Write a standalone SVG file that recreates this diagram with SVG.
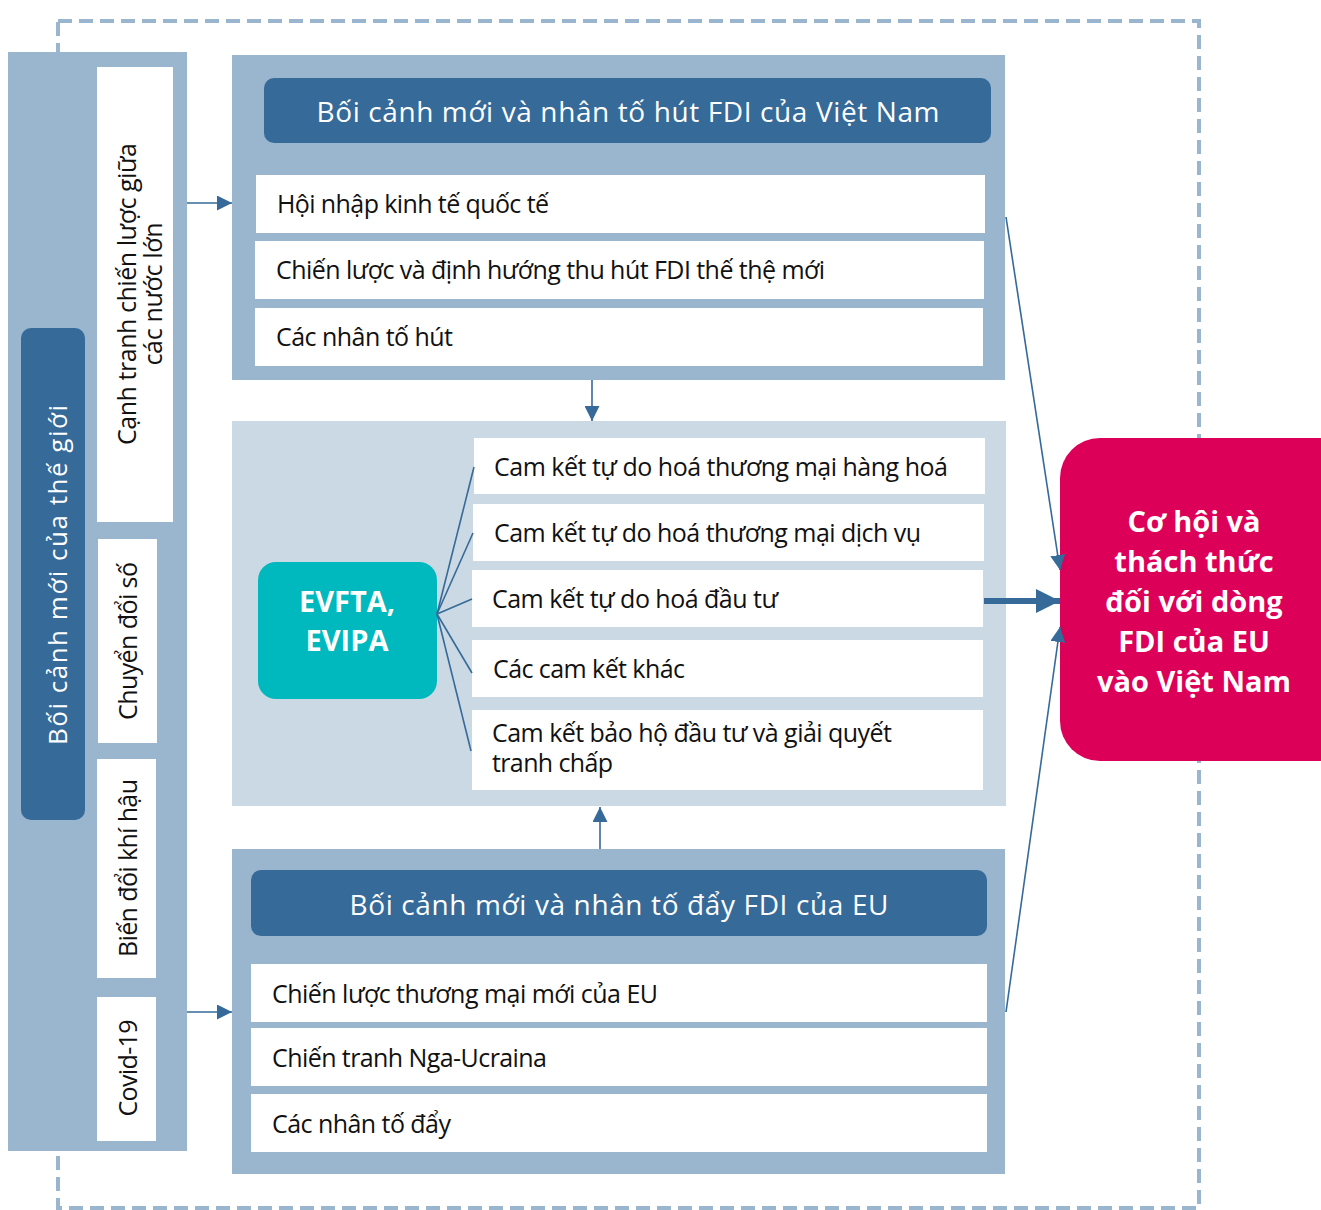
<svg xmlns="http://www.w3.org/2000/svg" width="1321" height="1210" viewBox="0 0 1321 1210">
<defs>
<style>
.panel{fill:#9ab5ce}
.light{fill:#cbd9e4}
.dark{fill:#356a99}
.white{fill:#ffffff}
.body{font-family:"Open Sans","Noto Sans","DejaVu Sans",sans-serif;font-size:25px;fill:#111111}
.head{font-family:"Open Sans","Noto Sans","DejaVu Sans",sans-serif;font-size:28px;fill:#ffffff;text-anchor:middle}
.bold{font-family:"Open Sans","Noto Sans","DejaVu Sans",sans-serif;font-size:29px;font-weight:700;fill:#ffffff;text-anchor:middle}
.rot{font-family:"Open Sans","Noto Sans","DejaVu Sans",sans-serif;font-size:25px;fill:#111111;text-anchor:middle}
.conn{stroke:#356a99;stroke-width:1.6;fill:none}
</style>
<marker id="ah" markerUnits="userSpaceOnUse" viewBox="0 0 15 15" refX="15" refY="7.5" markerWidth="15" markerHeight="15" orient="auto">
<path d="M0,0 L15,7.5 L0,15 z" fill="#356a99"/>
</marker>
<marker id="ahb" markerUnits="userSpaceOnUse" viewBox="0 0 24 24" refX="24" refY="12" markerWidth="24" markerHeight="24" orient="auto">
<path d="M0,0 L24,12 L0,24 z" fill="#356a99"/>
</marker>
</defs>
<rect width="1321" height="1210" fill="#ffffff"/>
<rect x="58" y="21" width="1141" height="1187" fill="none" stroke="#9ab5ce" stroke-width="4" stroke-dasharray="14 7"/>

<g id="world">
<rect class="panel" x="8" y="52" width="179" height="1099"/>
<rect class="dark" x="21" y="328" width="64" height="492" rx="10"/>
<text transform="translate(67,575) rotate(-90)" font-family="Open Sans, Noto Sans, sans-serif" font-size="26" fill="#ffffff" text-anchor="middle" textLength="340" lengthAdjust="spacing">Bối cảnh mới của thế giới</text>
</g>
<g id="w1">
<rect class="white" x="97" y="67" width="76" height="455"/>
<text class="rot" transform="translate(136,294) rotate(-90)" textLength="302" lengthAdjust="spacing">Cạnh tranh chiến lược giữa</text>
<text class="rot" transform="translate(162,294) rotate(-90)" textLength="143" lengthAdjust="spacing">các nước lớn</text>
</g>
<g id="w2">
<rect class="white" x="98" y="539" width="59" height="204"/>
<text class="rot" transform="translate(137,641) rotate(-90)" textLength="158" lengthAdjust="spacing">Chuyển đổi số</text>
</g>
<g id="w3">
<rect class="white" x="97" y="759" width="59" height="219"/>
<text class="rot" transform="translate(137,868) rotate(-90)" textLength="178" lengthAdjust="spacing">Biến đổi khí hậu</text>
</g>
<g id="w4">
<rect class="white" x="97" y="997" width="59" height="144"/>
<text class="rot" transform="translate(137,1068) rotate(-90)" textLength="97" lengthAdjust="spacing">Covid-19</text>
</g>

<g id="pull">
<rect class="panel" x="232" y="55" width="773" height="325"/>
<rect class="dark" x="264" y="78" width="727" height="65" rx="10"/>
<text class="head" x="628" y="122" textLength="623" lengthAdjust="spacing">Bối cảnh mới và nhân tố hút FDI của Việt Nam</text>
<rect class="white" x="256" y="175" width="729" height="58"/>
<text class="body" x="277" y="213" textLength="272" lengthAdjust="spacing">Hội nhập kinh tế quốc tế</text>
<rect class="white" x="255" y="241" width="729" height="58"/>
<text class="body" x="276" y="279" textLength="549" lengthAdjust="spacing">Chiến lược và định hướng thu hút FDI thế thệ mới</text>
<rect class="white" x="255" y="308" width="728" height="58"/>
<text class="body" x="276" y="346" textLength="177" lengthAdjust="spacing">Các nhân tố hút</text>
</g>

<g id="agreements">
<rect class="light" x="232" y="421" width="774" height="385"/>
<rect class="white" x="474" y="438" width="511" height="56"/>
<text class="body" x="494" y="476" textLength="454" lengthAdjust="spacing">Cam kết tự do hoá thương mại hàng hoá</text>
<rect class="white" x="473" y="504" width="511" height="57"/>
<text class="body" x="494" y="542" textLength="427" lengthAdjust="spacing">Cam kết tự do hoá thương mại dịch vụ</text>
<rect class="white" x="472" y="570" width="511" height="57"/>
<text class="body" x="492" y="608" textLength="286" lengthAdjust="spacing">Cam kết tự do hoá đầu tư</text>
<rect class="white" x="472" y="640" width="511" height="57"/>
<text class="body" x="493" y="678" textLength="192" lengthAdjust="spacing">Các cam kết khác</text>
<rect class="white" x="472" y="710" width="511" height="80"/>
<text class="body" x="492" y="742" textLength="400" lengthAdjust="spacing">Cam kết bảo hộ đầu tư và giải quyết</text>
<text class="body" x="492" y="772" textLength="121" lengthAdjust="spacing">tranh chấp</text>
</g>

<g id="evfta">
<rect x="258" y="562" width="179" height="137" rx="18" fill="#00b9be"/>
<text class="bold" x="347" y="612">EVFTA,</text>
<text class="bold" x="347" y="651">EVIPA</text>
</g>

<g id="push">
<rect class="panel" x="232" y="849" width="773" height="325"/>
<rect class="dark" x="251" y="870" width="736" height="66" rx="10"/>
<text class="head" x="619" y="915" textLength="539" lengthAdjust="spacing">Bối cảnh mới và nhân tố đẩy FDI của EU</text>
<rect class="white" x="251" y="964" width="736" height="58"/>
<text class="body" x="272" y="1003" textLength="386" lengthAdjust="spacing">Chiến lược thương mại mới của EU</text>
<rect class="white" x="251" y="1028" width="736" height="58"/>
<text class="body" x="272" y="1067" textLength="275" lengthAdjust="spacing">Chiến tranh Nga-Ucraina</text>
<rect class="white" x="251" y="1094" width="736" height="58"/>
<text class="body" x="272" y="1133" textLength="179" lengthAdjust="spacing">Các nhân tố đẩy</text>
</g>

<g id="outcome">
<rect x="1060" y="438" width="300" height="323" rx="40" fill="#dc0058"/>
<text class="bold" x="1194" y="532">Cơ hội và</text>
<text class="bold" x="1194" y="572">thách thức</text>
<text class="bold" x="1194" y="612">đối với dòng</text>
<text class="bold" x="1194" y="652">FDI của EU</text>
<text class="bold" x="1194" y="692">vào Việt Nam</text>
</g>

<g id="connectors">
<line class="conn" x1="187" y1="203" x2="232" y2="203" marker-end="url(#ah)"/>
<line class="conn" x1="187" y1="1012" x2="232" y2="1012" marker-end="url(#ah)"/>
<line class="conn" x1="592" y1="380" x2="592" y2="421" marker-end="url(#ah)"/>
<line class="conn" x1="600" y1="849" x2="600" y2="807" marker-end="url(#ah)"/>
<line class="conn" x1="1006" y1="217" x2="1060" y2="570" marker-end="url(#ah)"/>
<line class="conn" x1="1006" y1="1012" x2="1060" y2="627" marker-end="url(#ah)"/>
<line x1="984" y1="601" x2="1060" y2="601" stroke="#356a99" stroke-width="6" marker-end="url(#ahb)"/>
<line class="conn" x1="437" y1="614" x2="474" y2="467"/>
<line class="conn" x1="437" y1="614" x2="473" y2="533"/>
<line class="conn" x1="437" y1="614" x2="472" y2="599"/>
<line class="conn" x1="437" y1="614" x2="472" y2="673"/>
<line class="conn" x1="437" y1="614" x2="471" y2="751"/>
</g>
</svg>
